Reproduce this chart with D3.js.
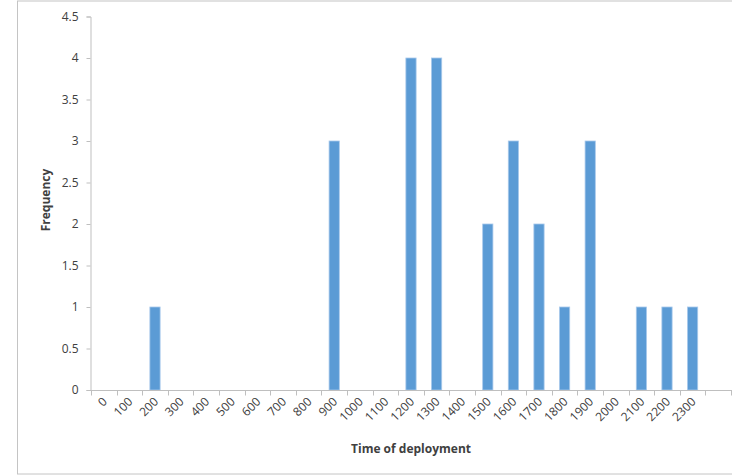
<!DOCTYPE html>
<html>
<head>
<meta charset="utf-8">
<script src="https://cdn.jsdelivr.net/npm/d3@7"></script>
<style>
  html, body { margin: 0; padding: 0; background: #fff; }
  svg { display: block; }
  text { font-family: "Open Sans", "Liberation Sans", sans-serif; fill: #404040; }
</style>
</head>
<body>
<svg id="chart" width="732" height="475"></svg>
<script>
// Deployment-time bins (the last slot is an unlabeled trailing bin)
const categories = ["0","100","200","300","400","500","600","700","800","900","1000","1100",
                    "1200","1300","1400","1500","1600","1700","1800","1900","2000","2100","2200","2300",""];
const frequency  = [0,0,1,0,0,0,0,0,0,3,0,0,
                    4,4,0,2,3,2,1,3,0,1,1,1,0];
const yTicks = [0, 0.5, 1, 1.5, 2, 2.5, 3, 3.5, 4, 4.5];

const svg = d3.select("#chart");
const axisColor = "#bfbfbf";

// Outer chart frame
svg.append("rect")
  .attr("x", 17.5).attr("y", 1)
  .attr("width", 760).attr("height", 473)
  .attr("fill", "none").attr("stroke", "#c4c4c4").attr("stroke-width", 1);

const x = d3.scaleBand().domain(d3.range(categories.length))
  .range([91, 731]).paddingInner(0.6).paddingOuter(0.3);
const y = d3.scaleLinear().domain([0, 4.5]).range([390, 16.5]);

// Bars (one per bin with a non-zero count)
const barData = frequency.map((v, i) => ({ i, v })).filter(d => d.v > 0);
svg.append("g").selectAll("rect")
  .data(barData)
  .join("rect")
  .attr("x", d => x(d.i))
  .attr("y", d => y(d.v))
  .attr("width", x.bandwidth())
  .attr("height", d => y(0) - y(d.v))
  .attr("fill", "#5b9bd5")
  .attr("stroke", "#a9c9eb")
  .attr("stroke-width", 0.8);

// Y axis
const yAxis = svg.append("g")
  .attr("transform", "translate(90.5,0)")
  .call(d3.axisLeft(y).tickValues(yTicks).tickSize(4).tickPadding(8)
        .tickFormat(d => String(d)));
yAxis.select(".domain").attr("stroke", axisColor);
yAxis.selectAll(".tick line").attr("stroke", axisColor);
yAxis.selectAll(".tick text").style("font-size", "12px").attr("fill", "#404040");

// X axis: tick marks at bin boundaries
const xAxisLine = d3.scalePoint().domain(d3.range(categories.length + 1)).range([91, 731]);
const xg = svg.append("g").attr("transform", "translate(0,390.5)");
xg.append("line")
  .attr("x1", 91).attr("x2", 732).attr("y1", 0).attr("y2", 0)
  .attr("stroke", axisColor);
xg.selectAll("line.tk")
  .data(xAxisLine.domain())
  .join("line")
  .attr("class", "tk")
  .attr("x1", d => Math.round(xAxisLine(d)) + 0.5)
  .attr("x2", d => Math.round(xAxisLine(d)) + 0.5)
  .attr("y1", 0).attr("y2", 5)
  .attr("stroke", axisColor);

// Rotated category labels
xg.selectAll("text.lbl")
  .data(categories)
  .join("text")
  .attr("class", "lbl")
  .attr("text-anchor", "end")
  .attr("transform", (d, i) => {
    const cx = x(i) + x.bandwidth() / 2 + 4;
    return `translate(${cx},12) rotate(-45)`;
  })
  .style("font-size", "12px")
  .text(d => d);

// Axis titles
svg.append("text")
  .attr("x", 411).attr("y", 453)
  .attr("text-anchor", "middle")
  .style("font-size", "12px").style("font-weight", "bold")
  .text("Time of deployment");

svg.append("text")
  .attr("transform", "translate(50,200) rotate(-90)")
  .attr("text-anchor", "middle")
  .style("font-size", "12px").style("font-weight", "bold")
  .text("Frequency");
</script>
</body>
</html>
